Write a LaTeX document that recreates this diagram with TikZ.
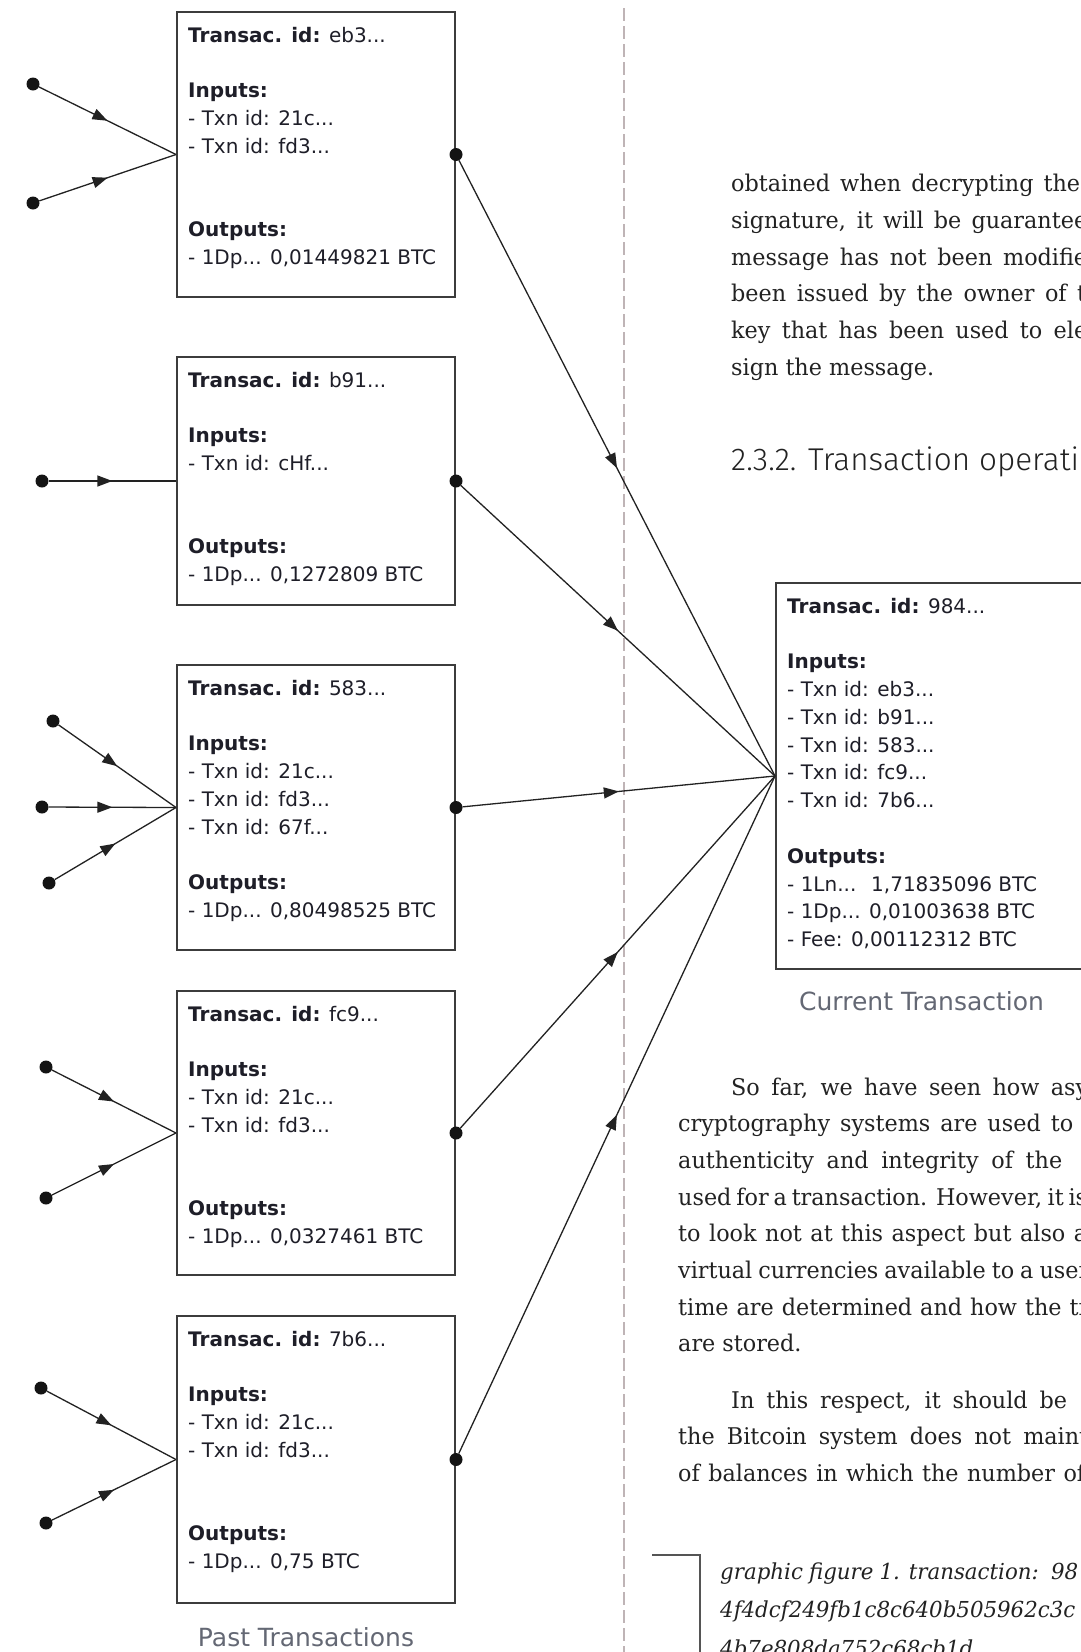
\documentclass[tikz,border=0pt]{standalone}
\usepackage{fontspec}
\setmainfont{DejaVu Sans}
\newfontfamily\bodyserif{DejaVu Serif}[FakeStretch=0.97]
\newfontfamily\headsans{Fira Sans Light}
\usetikzlibrary{arrows.meta,decorations.markings}
\definecolor{boxline}{HTML}{3C3C3C}
\definecolor{conncol}{HTML}{222222}
\definecolor{boxtext}{HTML}{1E1E28}
\definecolor{labelgray}{HTML}{646874}
\definecolor{dashgray}{HTML}{BFB4B6}
\definecolor{bodytext}{HTML}{222222}
\definecolor{brackcol}{HTML}{555555}
\tikzset{
  txbox/.style={draw=boxline, line width=2pt, rectangle, inner sep=0pt, minimum width=278pt, anchor=north west, fill=white},
  boxtxt/.style={anchor=base west, inner sep=0pt, text=boxtext, font=\fontsize{20}{27.8}\selectfont},
  endpt/.style={circle, fill=black!92, inner sep=0pt, minimum size=13pt},
  conn/.style={draw=conncol, line width=1.3pt,
    decoration={markings, mark=at position 0.5 with {\arrow[conncol]{Triangle[length=15pt,width=11pt]}}},
    postaction={decorate}},
  bodyline/.style={anchor=base west, inner sep=0pt, text=bodytext, font=\bodyserif\fontsize{23}{27}\selectfont},
  capline/.style={anchor=base west, inner sep=0pt, text=bodytext, font=\bodyserif\itshape\fontsize{22}{27}\selectfont},
  figlabel/.style={anchor=base, inner sep=0pt, text=labelgray, font=\fontsize{25}{30}\selectfont},
  headline/.style={anchor=base west, inner sep=0pt, text=bodytext, font=\headsans\fontsize{31.5}{38}\selectfont}
}
\begin{document}
\begin{tikzpicture}[x=1pt,y=-1pt]
\path[use as bounding box] (0,0) rectangle (1081,1652);
\clip (0,0) rectangle (1081,1652);
\fill[white] (0,0) rectangle (1081,1652);

% divider
\draw[dashgray, line width=2.2pt, dash pattern=on 13pt off 5pt] (624,8) -- (624,1660);

% past transaction boxes
\node[txbox, minimum height=285pt] (b1) at (176,11) {};
\node[txbox, minimum height=248pt] (b2) at (176,356) {};
\node[txbox, minimum height=285pt] (b3) at (176,664) {};
\node[txbox, minimum height=284pt] (b4) at (176,990) {};
\node[txbox, minimum height=287pt] (b5) at (176,1315) {};
% current transaction box
\node[txbox, minimum width=420pt, minimum height=386pt] (cur) at (775,582) {};

% box texts
\node[boxtxt] (t1) at (188,42) {\begin{tabular}[t]{@{}l@{}}\textbf{Transac. id:} eb3...\\ \\ \textbf{Inputs:}\\ - Txn id: 21c...\\ - Txn id: fd3...\\ \\ \\ \textbf{Outputs:}\\ - 1Dp... 0,01449821 BTC\end{tabular}};
\node[boxtxt] (t2) at (188,387) {\begin{tabular}[t]{@{}l@{}}\textbf{Transac. id:} b91...\\ \\ \textbf{Inputs:}\\ - Txn id: cHf...\\ \\ \\ \textbf{Outputs:}\\ - 1Dp... 0,1272809 BTC\end{tabular}};
\node[boxtxt] (t3) at (188,695) {\begin{tabular}[t]{@{}l@{}}\textbf{Transac. id:} 583...\\ \\ \textbf{Inputs:}\\ - Txn id: 21c...\\ - Txn id: fd3...\\ - Txn id: 67f...\\ \\ \textbf{Outputs:}\\ - 1Dp... 0,80498525 BTC\end{tabular}};
\node[boxtxt] (t4) at (188,1021) {\begin{tabular}[t]{@{}l@{}}\textbf{Transac. id:} fc9...\\ \\ \textbf{Inputs:}\\ - Txn id: 21c...\\ - Txn id: fd3...\\ \\ \\ \textbf{Outputs:}\\ - 1Dp... 0,0327461 BTC\end{tabular}};
\node[boxtxt] (t5) at (188,1346) {\begin{tabular}[t]{@{}l@{}}\textbf{Transac. id:} 7b6...\\ \\ \textbf{Inputs:}\\ - Txn id: 21c...\\ - Txn id: fd3...\\ \\ \\ \textbf{Outputs:}\\ - 1Dp... 0,75 BTC\end{tabular}};
\node[boxtxt] (tc) at (787,613) {\begin{tabular}[t]{@{}l@{}}\textbf{Transac. id:} 984...\\ \\ \textbf{Inputs:}\\ - Txn id: eb3...\\ - Txn id: b91...\\ - Txn id: 583...\\ - Txn id: fc9...\\ - Txn id: 7b6...\\ \\ \textbf{Outputs:}\\ - 1Ln...~ 1,71835096 BTC\\ - 1Dp... 0,01003638 BTC\\ - Fee: 0,00112312 BTC\end{tabular}};

% source points of past transactions
\node[endpt] (s1a) at (33,84) {};
\node[endpt] (s1b) at (33,203) {};
\node[endpt] (s2a) at (42,481) {};
\node[endpt] (s3a) at (53,721) {};
\node[endpt] (s3b) at (42,807) {};
\node[endpt] (s3c) at (49,883) {};
\node[endpt] (s4a) at (46,1067) {};
\node[endpt] (s4b) at (46,1198) {};
\node[endpt] (s5a) at (41,1388) {};
\node[endpt] (s5b) at (46,1523) {};
\draw[conn] (s1a) -- (b1.west);
\draw[conn] (s1b) -- (b1.west);
\draw[conn] (s2a) -- (b2.west);
\draw[conn] (s3a) -- (b3.west);
\draw[conn] (s3b) -- (b3.west);
\draw[conn] (s3c) -- (b3.west);
\draw[conn] (s4a) -- (b4.west);
\draw[conn] (s4b) -- (b4.west);
\draw[conn] (s5a) -- (b5.west);
\draw[conn] (s5b) -- (b5.west);

% outputs feeding the current transaction
\node[endpt] (o1) at (b1.east) {};
\node[endpt] (o2) at (b2.east) {};
\node[endpt] (o3) at (b3.east) {};
\node[endpt] (o4) at (b4.east) {};
\node[endpt] (o5) at (b5.east) {};
\draw[conn] (o1) -- (cur.west);
\draw[conn] (o2) -- (cur.west);
\draw[conn] (o3) -- (cur.west);
\draw[conn] (o4) -- (cur.west);
\draw[conn] (o5) -- (cur.west);

% labels
\node[figlabel] (curlab) at (921.6,1010) {Current Transaction};
\node[figlabel] (pastlab) at (306,1646) {Past Transactions};

% page text, top
\node[bodyline] (p1) at (731,191.7) {\makebox[349pt][s]{obtained when decrypting the}};
\node[bodyline] (p2) at (731,228.4) {\makebox[356pt][s]{signature, it will be guarantee}};
\node[bodyline] (p3) at (731,265.1) {\makebox[356pt][s]{message has not been modifie}};
\node[bodyline] (p4) at (731,301.8) {\makebox[355pt][s]{been issued by the owner of t}};
\node[bodyline] (p5) at (731,338.5) {\makebox[356pt][s]{key that has been used to ele}};
\node[bodyline] (p6) at (731,375.2) {sign the message.};
\node[headline] (hd) at (731,470) {2.3.2. Transaction operati};

% page text, bottom
\node[bodyline] (q1) at (731,1095) {\makebox[357pt][s]{So far, we have seen how asy}};
\node[bodyline] (q2) at (678,1131.7) {\makebox[395pt][s]{cryptography systems are used to}};
\node[bodyline] (q3) at (678,1168.4) {\makebox[384pt][s]{authenticity and integrity of the}};
\node[bodyline] (q4) at (678,1205.1) {\makebox[409pt][s]{used for a transaction. However, it is}};
\node[bodyline] (q5) at (678,1241.8) {\makebox[409pt][s]{to look not at this aspect but also a}};
\node[bodyline] (q6) at (678,1278.5) {\makebox[411pt][s]{virtual currencies available to a user}};
\node[bodyline] (q7) at (678,1315.2) {\makebox[411pt][s]{time are determined and how the tr}};
\node[bodyline] (q8) at (678,1351.9) {are stored.};
\node[bodyline] (r1) at (731,1408) {\makebox[336pt][s]{In this respect, it should be}};
\node[bodyline] (r2) at (678,1444.7) {\makebox[410pt][s]{the Bitcoin system does not maint}};
\node[bodyline] (r3) at (678,1481.4) {\makebox[407pt][s]{of balances in which the number of}};

% caption
\draw[brackcol, line width=1.5pt] (652,1555) -- (700,1555) -- (700,1660);
\node[capline] (c1) at (720,1579) {\makebox[358pt][s]{graphic figure 1. transaction:\ \ 98}};
\node[capline] (c2) at (720,1617) {4f4dcf249fb1c8c640b505962c3c};
\node[capline] (c3) at (720,1656) {4b7e808da752c68cb1d};
\end{tikzpicture}
\end{document}
